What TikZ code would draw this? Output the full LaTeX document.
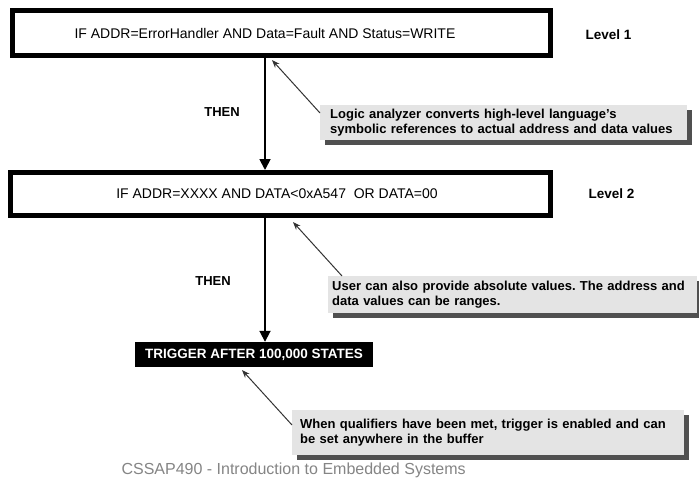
\documentclass[tikz,border=0pt]{standalone}
\usepackage{fontspec}
\setmainfont{Liberation Sans}
\usetikzlibrary{arrows.meta,shadows}
\definecolor{calloutfill}{HTML}{E4E4E4}
\definecolor{shadowgray}{HTML}{505050}
\definecolor{footgray}{HTML}{858585}
\tikzset{
  condbox/.style={draw=black, line width=5pt, fill=white, inner sep=0pt,
    font=\fontsize{14}{16}\selectfont},
  levellabel/.style={font=\fontsize{13.5}{16}\selectfont\bfseries, anchor=west},
  thenlabel/.style={font=\fontsize{13}{15}\selectfont\bfseries},
  trigbox/.style={fill=black, text=white, inner sep=0pt,
    font=\fontsize{13.5}{16}\selectfont\bfseries},
  callout/.style={fill=calloutfill, inner ysep=3pt, align=left,
    anchor=north west,
    font=\fontsize{13}{14.5}\selectfont\bfseries\frenchspacing,
    general shadow={fill=shadowgray, shadow xshift=5pt, shadow yshift=-5pt}},
  flow/.style={draw=black, line width=1.8pt, -{Triangle[length=11pt,width=11pt]}},
  pointer/.style={draw=black!80, line width=1pt, -{Stealth[length=8pt,width=6pt]}},
}
\begin{document}
\begin{tikzpicture}[x=1pt,y=-1pt]
\useasboundingbox (0,0) rectangle (699,483);
\fill[white] (0,0) rectangle (699,483);

% condition boxes
\node[condbox, minimum width=538pt, minimum height=45pt] (b1) at (281.5,33)
  {\kern-33pt IF ADDR=ErrorHandler AND Data=Fault AND Status=WRITE};
\node[condbox, minimum width=540pt, minimum height=43pt] (b2) at (280.5,194)
  {\kern-7pt IF ADDR=XXXX AND DATA<0xA547\ \ OR DATA=00};
\node[trigbox, minimum width=238pt, minimum height=25pt] (tr) at (254,354.5)
  {TRIGGER AFTER 100,000 STATES};

% level labels
\node[levellabel] (l1) at (582,35) {Level 1};
\node[levellabel] (l2) at (585,194) {Level 2};

% THEN labels
\node[thenlabel] (then1) at (222,112) {THEN};
\node[thenlabel] (then2) at (213,281) {THEN};

% flow arrows
\draw[flow] (b1.south -| 265,0) -- (b2.north -| 265,0);
\draw[flow] (b2.south -| 265,0) -- (tr.north -| 265,0);

% callouts
\node[callout, inner xsep=10pt, text width=347pt, minimum height=35pt] (c1) at (320,105)
  {\mbox{Logic analyzer converts high-level language's}\\\mbox{symbolic references to actual address and data values}};
\node[callout, inner xsep=4pt, text width=361pt, minimum height=37pt] (c2) at (328,276)
  {\mbox{User can also provide absolute values. The address and}\\\mbox{data values can be ranges.}};
\node[callout, inner xsep=8pt, text width=376pt, minimum height=45pt] (c3) at (292,410)
  {\mbox{When qualifiers have been met, trigger is enabled and can}\\\mbox{be set anywhere in the buffer}};

% pointers
\coordinate (p1) at (272,60);
\coordinate (p2) at (293,222);
\coordinate (p3) at (242,370);
\draw[pointer] ([yshift=-8pt]c1.north west) -- (p1);
\draw[pointer] ([xshift=14pt]c2.north west) -- (p2);
\draw[pointer] ([yshift=-15pt]c3.north west) -- (p3);

% footer
\node[text=footgray, font=\fontsize{16}{18}\selectfont, anchor=west] (foot) at (118,470)
  {CSSAP490 - Introduction to Embedded Systems};
\end{tikzpicture}
\end{document}
